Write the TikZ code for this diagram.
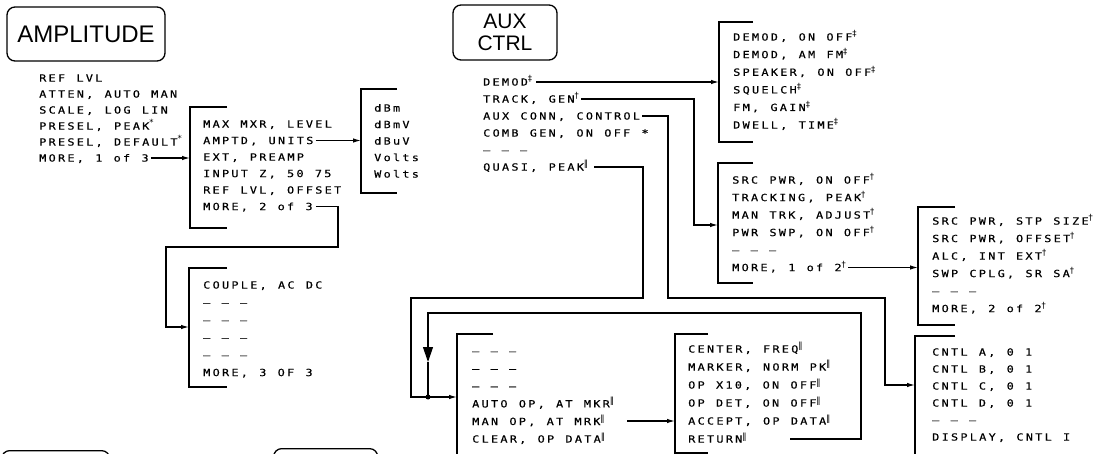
\documentclass[tikz,border=0pt]{standalone}
\usepackage{fontspec}
\setmainfont{Liberation Sans}
\newfontfamily\lfont[FakeStretch=1.2,LetterSpace=22.7,WordSpace=1.2,FakeBold=0.4]{DejaVu Sans Mono}
\newfontfamily\kfont{Liberation Sans}
\newfontfamily\djvfont{DejaVu Sans}
\usetikzlibrary{arrows.meta}
\newcommand\lblfont{\lfont\fontsize{9.9}{12}\selectfont}
\newcommand\mysup[1]{\raisebox{3.6pt}{\djvfont\fontsize{8.5}{8.5}\selectfont #1}}
\newcommand\mydag{\mysup{†}}
\newcommand\myddag{\mysup{‡}}
\newcommand\mybar{\mysup{‖}}
\newcommand\myast{\mysup{*}}
\newcommand\mydash{– – –}
\newcommand\brkt[5]{%
  \coordinate (#1T) at (#2,#3);
  \coordinate (#1B) at (#2,#4);
  \draw[brk] ([xshift=#5pt]#1T) -- (#1T) -- (#1B) -- ([xshift=#5pt]#1B);}
\tikzset{
  lbl/.style={font=\lblfont, inner sep=0pt, anchor=base west},
  key/.style={draw, line width=1.3pt, rounded corners=8pt, inner sep=0pt},
  brk/.style={line width=1.4pt},
  con/.style={line width=1.2pt},
  arr/.style={con, -{Latex[length=8pt,width=4.5pt]}},
  bigarr/.style={con, -{Triangle[length=15pt,width=10pt]}}
}
\begin{document}
\begin{tikzpicture}[x=1pt,y=-1pt]
\useasboundingbox (0,0) rectangle (1103,454);
\clip (0,0) rectangle (1103,454);
\fill[white] (0,0) rectangle (1103,454);

% key boxes
\node[key, minimum width=158pt, minimum height=54pt, font=\kfont\fontsize{24}{28}\selectfont] (ampkey) at (86,34) {AMPLITUDE};
\node[key, minimum width=104pt, minimum height=55pt, align=center, font=\kfont\fontsize{21}{22}\selectfont] (auxkey) at (505,32.5) {AUX\\CTRL};
\node[key, minimum width=108pt, minimum height=40pt, anchor=north west] (key3) at (1,450) {};
\node[key, minimum width=104pt, minimum height=40pt, anchor=north west] (key4) at (273,448) {};

% AMPLITUDE list
\node[lbl] (a1) at (39,81.6) {REF LVL};
\node[lbl] (a2) at (39,97.6) {ATTEN, AUTO MAN};
\node[lbl] (a3) at (39,113.6) {SCALE, LOG LIN};
\node[lbl] (a4) at (39,129.6) {PRESEL, PEAK\myast};
\node[lbl] (a5) at (39,145.6) {PRESEL, DEFAULT\myast};
\node[lbl] (a6) at (39,161.6) {MORE, 1 of 3};

% more 2 of 3 menu
\brkt{b}{190}{107}{228}{37}
\node[lbl] (b1) at (203,127.6) {MAX MXR, LEVEL};
\node[lbl] (b2) at (203,144.1) {AMPTD, UNITS};
\node[lbl] (b3) at (203,160.6) {EXT, PREAMP};
\node[lbl] (b4) at (203,177.1) {INPUT Z, 50 75};
\node[lbl] (b5) at (203,193.6) {REF LVL, OFFSET};
\node[lbl] (b6) at (203,210.1) {MORE, 2 of 3};

% units menu
\brkt{u}{361}{89}{193}{36}
\node[lbl] (u1) at (374,111.6) {dBm};
\node[lbl] (u2) at (374,128.1) {dBmV};
\node[lbl] (u3) at (374,144.6) {dBuV};
\node[lbl] (u4) at (374,161.1) {Volts};
\node[lbl] (u5) at (374,177.6) {Wolts};

% more 3 of 3 menu
\brkt{c}{189}{268}{387}{38}
\node[lbl] (c1) at (203,288.6) {COUPLE, AC DC};
\node[lbl] (c2) at (203,306.1) {\mydash};
\node[lbl] (c3) at (203,323.6) {\mydash};
\node[lbl] (c4) at (203,341.1) {\mydash};
\node[lbl] (c5) at (203,358.6) {\mydash};
\node[lbl] (c6) at (203,376.1) {MORE, 3 OF 3};

% AUX CTRL list
\node[lbl] (x1) at (483,85.6) {DEMOD\myddag};
\node[lbl] (x2) at (483,102.6) {TRACK, GEN\mydag};
\node[lbl] (x3) at (483,119.6) {AUX CONN, CONTROL};
\node[lbl] (x4) at (483,136.6) {COMB GEN, ON OFF *};
\node[lbl] (x5) at (483,153.6) {\mydash};
\node[lbl] (x6) at (483,170.6) {QUASI, PEAK\mybar};

% demod menu
\brkt{d}{719}{22}{142}{34}
\node[lbl] (d1) at (733,40.6) {DEMOD, ON OFF\myddag};
\node[lbl] (d2) at (733,58.2) {DEMOD, AM FM\myddag};
\node[lbl] (d3) at (733,75.8) {SPEAKER, ON OFF\myddag};
\node[lbl] (d4) at (733,93.4) {SQUELCH\myddag};
\node[lbl] (d5) at (733,111) {FM, GAIN\myddag};
\node[lbl] (d6) at (733,128.6) {DWELL, TIME\myddag};

% tracking menu
\brkt{s}{718}{163}{283}{35}
\node[lbl] (s1) at (732,183.6) {SRC PWR, ON OFF\mydag};
\node[lbl] (s2) at (732,201.1) {TRACKING, PEAK\mydag};
\node[lbl] (s3) at (732,218.6) {MAN TRK, ADJUST\mydag};
\node[lbl] (s4) at (732,236.1) {PWR SWP, ON OFF\mydag};
\node[lbl] (s5) at (732,253.6) {\mydash};
\node[lbl] (s6) at (732,271.1) {MORE, 1 of 2\mydag};

% tracking 2 of 2
\brkt{p}{918}{207}{325}{37}
\node[lbl] (p1) at (932,224.6) {SRC PWR, STP SIZE\mydag};
\node[lbl] (p2) at (932,242.1) {SRC PWR, OFFSET\mydag};
\node[lbl] (p3) at (932,259.6) {ALC, INT EXT\mydag};
\node[lbl] (p4) at (932,277.1) {SWP CPLG, SR SA\mydag};
\node[lbl] (p5) at (932,294.6) {\mydash};
\node[lbl] (p6) at (932,312.1) {MORE, 2 of 2\mydag};

% control menu
\brkt{n}{915}{336}{470}{40}
\node[lbl] (n1) at (932,355.6) {CNTL A, 0 1};
\node[lbl] (n2) at (932,372.6) {CNTL B, 0 1};
\node[lbl] (n3) at (932,389.6) {CNTL C, 0 1};
\node[lbl] (n4) at (932,406.6) {CNTL D, 0 1};
\node[lbl] (n5) at (932,423.6) {\mydash};
\node[lbl] (n6) at (932,440.6) {DISPLAY, CNTL I};

% quasi peak menu
\brkt{o}{457}{334}{470}{36}
\node[lbl] (o1) at (472,354.6) {\mydash};
\node[lbl] (o2) at (472,372.2) {\mydash};
\node[lbl] (o3) at (472,389.8) {\mydash};
\node[lbl] (o4) at (472,407.4) {AUTO OP, AT MKR\mybar};
\node[lbl] (o5) at (472,425) {MAN OP, AT MRK\mybar};
\node[lbl] (o6) at (472,442.6) {CLEAR, OP DATA\mybar};

% manual op menu
\brkt{e}{675}{334}{453}{33}
\node[lbl] (e1) at (688,352.6) {CENTER, FREQ\mybar};
\node[lbl] (e2) at (688,370.6) {MARKER, NORM PK\mybar};
\node[lbl] (e3) at (688,388.6) {OP X10, ON OFF\mybar};
\node[lbl] (e4) at (688,406.6) {OP DET, ON OFF\mybar};
\node[lbl] (e5) at (688,424.6) {ACCEPT, OP DATA\mybar};
\node[lbl] (e6) at (688,442.6) {RETURN\mybar};

% connectors
\draw[arr] ([xshift=2pt,yshift=3.6pt]a6.base east) -- ([yshift=3.6pt]bT |- a6.base);
\draw[arr] ([xshift=2pt,yshift=3.6pt]b2.base east) -- ([yshift=3.6pt]uT |- b2.base);
\coordinate (m1) at (338,247);
\coordinate (m2) at (166,327);
\draw[arr] ([xshift=3pt,yshift=3.6pt]b6.base east) -| (m1) -| (m2) -- (cT |- m2);

\draw[arr] ([xshift=4pt,yshift=3.6pt]x1.base east) -- ([yshift=3.6pt]dT |- x1.base);
\coordinate (m3) at (694,225);
\draw[arr] ([xshift=2pt,yshift=3.6pt]x2.base east) -| (m3) -- (sT |- m3);
\coordinate (m4) at (668,298);
\coordinate (m5) at (885,385);
\draw[arr] ([xshift=2pt,yshift=3.6pt]x3.base east) -| (m4) -| (m5) -- (nT |- m5);
\coordinate (m6) at (643,298);
\coordinate (m7) at (411,397);
\draw[arr] ([xshift=6pt,yshift=3.6pt]x6.base east) -| (m6) -| (m7) -- (oT |- m7);

\draw[arr] ([xshift=2pt,yshift=3.6pt]s6.base east) -- ([yshift=3.6pt]pT |- s6.base);

\coordinate (m11) at (627,421);
\draw[arr] (m11) -- (eT |- m11);

\coordinate (m10) at (790,439);
\coordinate (m8) at (861,313);
\coordinate (m9) at (428,362);
\coordinate (jn) at (428,397);
\draw[bigarr] (m10) -| (m8) -| (m9);
\draw[con] (m9) -- (jn);
\fill (jn) circle (2.5);
\end{tikzpicture}
\end{document}
